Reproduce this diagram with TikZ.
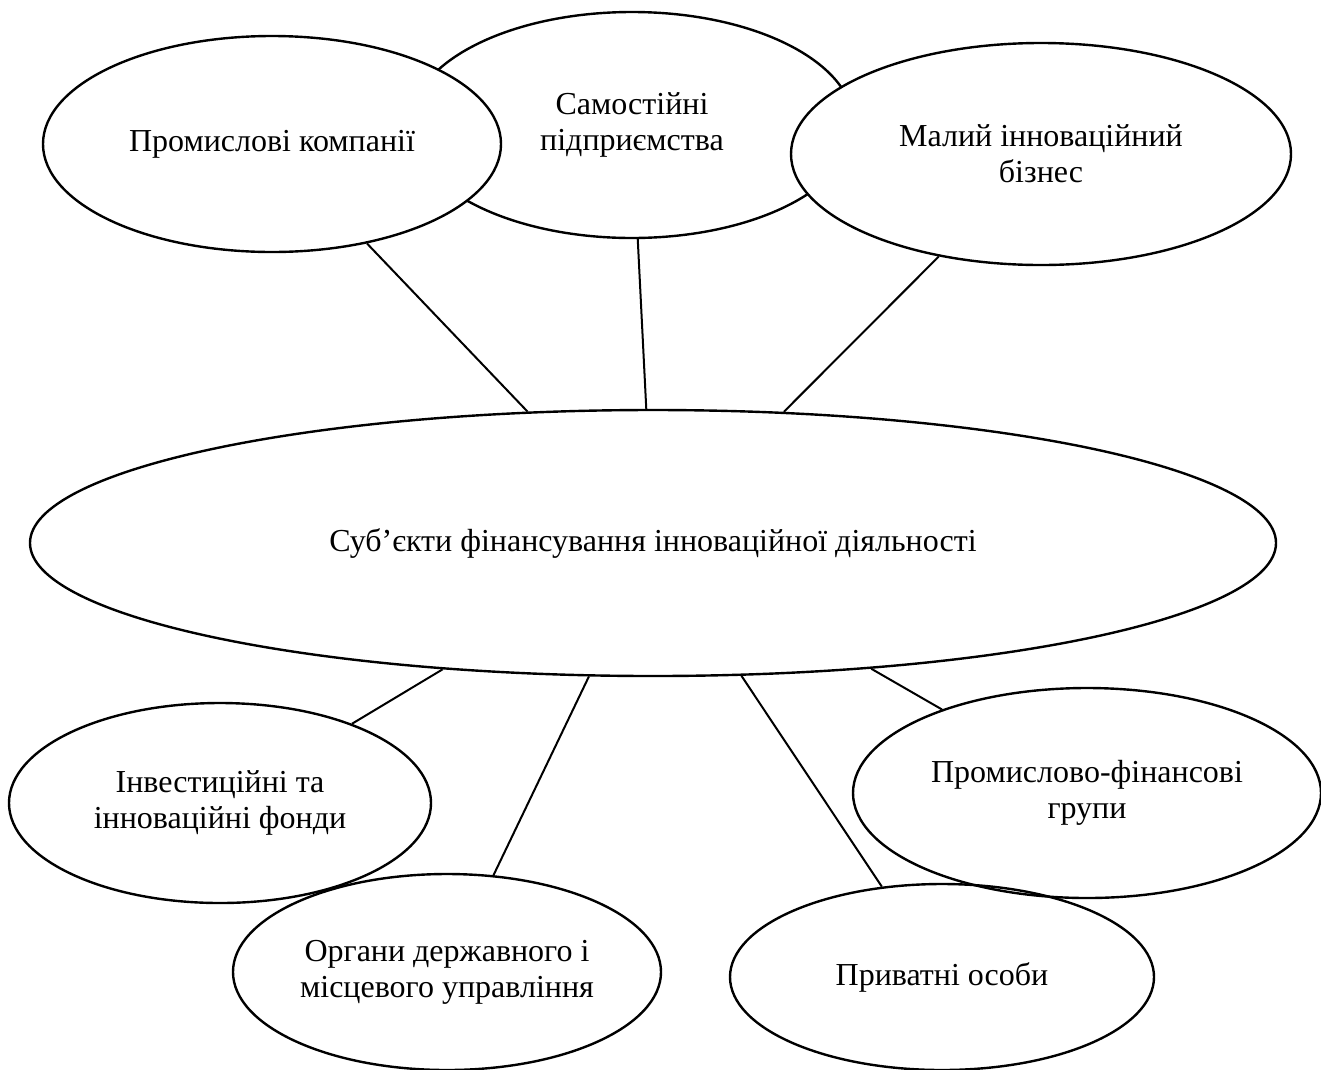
\documentclass[tikz,border=0pt]{standalone}
\usepackage{fontspec}
\setmainfont{Liberation Serif}
\usetikzlibrary{shapes.geometric}
\begin{document}
\begin{tikzpicture}[x=1pt,y=-1pt,
  ell/.style={ellipse, draw, line width=2.4pt, inner sep=0pt, align=center,
    font=\fontsize{32}{36}\selectfont},
  link/.style={line width=2pt}]
\useasboundingbox (0,0) rectangle (1321,1069);
\node[ell, minimum width=444, minimum height=226] (sam) at (632,125) {Самостійні\\підприємства};
\node[ell, fill=white, minimum width=458, minimum height=216] (prom) at (272,144) {Промислові компанії};
\node[ell, fill=white, minimum width=500, minimum height=222] (mal) at (1041,154) {Малий інноваційний\\бізнес};
\node[ell, minimum width=1246, minimum height=266] (sub) at (653,543) {Суб’єкти фінансування інноваційної діяльності};
\node[ell, minimum width=422, minimum height=200] (inv) at (220,803) {Інвестиційні та\\інноваційні фонди};
\node[ell, minimum width=428, minimum height=196] (org) at (447,972) {Органи державного і\\місцевого управління};
\node[ell, minimum width=424, minimum height=186] (pryv) at (942,977) {Приватні особи};
\node[ell, minimum width=468, minimum height=210] (pfg) at (1087,793) {Промислово-фінансові\\групи};
\draw[link] (prom) -- (sub);
\draw[link] (sam) -- (sub);
\draw[link] (mal) -- (sub);
\draw[link] (sub) -- (inv);
\draw[link] (sub) -- (org);
\draw[link] (sub) -- (pryv);
\draw[link] (sub) -- (pfg);
\end{tikzpicture}
\end{document}
